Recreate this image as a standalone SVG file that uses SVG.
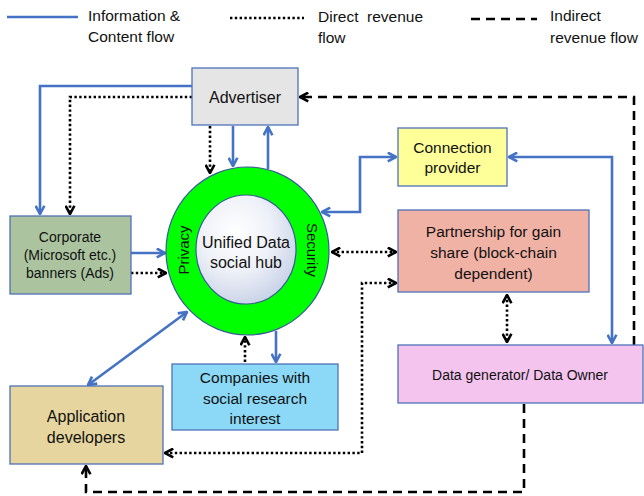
<svg xmlns="http://www.w3.org/2000/svg" width="644" height="496" viewBox="0 0 644 496">
<style>
text{font-family:"Liberation Sans",Arial,sans-serif;fill:#111;text-anchor:middle}
.box{stroke:#4f72b8;stroke-width:1.3}
.info{fill:none;stroke:#4472c4;stroke-width:2.6}
.dir{fill:none;stroke:#000;stroke-width:2.6;stroke-dasharray:2.4 2.4}
.ind{fill:none;stroke:#000;stroke-width:2.6;stroke-dasharray:9 6}
</style>
<defs>
<marker id="ab" viewBox="0 0 10 10" refX="9" refY="5" markerWidth="11" markerHeight="11" markerUnits="userSpaceOnUse" orient="auto-start-reverse">
<path d="M1.5,1 L9,5 L1.5,9" fill="none" stroke="#4472c4" stroke-width="2.4"/>
</marker>
<marker id="ak" viewBox="0 0 10 10" refX="9" refY="5" markerWidth="11" markerHeight="11" markerUnits="userSpaceOnUse" orient="auto-start-reverse">
<path d="M1.5,1 L9,5 L1.5,9" fill="none" stroke="#000" stroke-width="2.4"/>
</marker>
<radialGradient id="hub" cx="0.4" cy="0.35" r="0.7">
<stop offset="0" stop-color="#ffffff"/>
<stop offset="0.5" stop-color="#eef1f8"/>
<stop offset="1" stop-color="#c6d0e6"/>
</radialGradient>
</defs>

<g id="legend">
<line x1="7" y1="17" x2="78" y2="17" class="info"/>
<text x="88" y="21" style="text-anchor:start;font-size:15.5px">Information &amp;</text>
<text x="88" y="42" style="text-anchor:start;font-size:15.5px">Content flow</text>
<line x1="230" y1="18" x2="304" y2="18" class="dir"/>
<text x="318" y="22" style="text-anchor:start;font-size:15.5px;white-space:pre" xml:space="preserve">Direct  revenue</text>
<text x="318" y="43" style="text-anchor:start;font-size:15.5px">flow</text>
<line x1="471" y1="19" x2="537" y2="19" class="ind"/>
<text x="550" y="21" style="text-anchor:start;font-size:15.5px">Indirect</text>
<text x="550" y="43" style="text-anchor:start;font-size:15.5px">revenue flow</text>
</g>

<g id="connectors">
<!-- information flow -->
<path d="M192,86 H40 V214" class="info" marker-end="url(#ab)"/>
<path d="M233,126 V166" class="info" marker-end="url(#ab)"/>
<path d="M268,169 V127" class="info" marker-end="url(#ab)"/>
<path d="M131,253 H165" class="info" marker-end="url(#ab)"/>
<path d="M322,212 H360 V157 H396" class="info" marker-start="url(#ab)" marker-end="url(#ab)"/>
<path d="M509,157 H612 V343" class="info" marker-start="url(#ab)" marker-end="url(#ab)"/>
<path d="M187,312 L88,385" class="info" marker-start="url(#ab)" marker-end="url(#ab)"/>
<path d="M276,331 V362" class="info" marker-end="url(#ab)"/>
<!-- direct revenue -->
<path d="M192,97 H70 V214" class="dir" marker-end="url(#ak)"/>
<path d="M210,126 V173" class="dir" marker-end="url(#ak)"/>
<path d="M131,273 H166" class="dir" marker-end="url(#ak)"/>
<path d="M332,252 H396" class="dir" marker-start="url(#ak)" marker-end="url(#ak)"/>
<path d="M396,283 H362 V453 H165" class="dir" marker-start="url(#ak)" marker-end="url(#ak)"/>
<path d="M507,295 V342" class="dir" marker-start="url(#ak)" marker-end="url(#ak)"/>
<path d="M245,362 V337" class="dir" marker-end="url(#ak)"/>
<!-- indirect revenue -->
<path d="M634,345 V97 H300" class="ind" marker-end="url(#ak)"/>
<path d="M524,404 V492 H86 V466" class="ind" marker-end="url(#ak)"/>
</g>

<g id="advertiser">
<rect x="192" y="68" width="106" height="57" fill="#e5e5e5" class="box"/>
<text x="245" y="103" style="font-size:16px">Advertiser</text>
</g>

<g id="hub-node">
<ellipse cx="247.5" cy="251" rx="81.5" ry="84" fill="#00ff00" stroke="#3a5a9a" stroke-width="1.2"/>
<ellipse cx="246" cy="249.5" rx="50" ry="54.5" fill="url(#hub)" stroke="#3a5a9a" stroke-width="1.2"/>
<text x="246" y="248" style="font-size:16px">Unified Data</text>
<text x="246" y="268" style="font-size:16px">social hub</text>
<text transform="translate(189,250) rotate(-90)" style="font-size:15px">Privacy</text>
<text transform="translate(307,250) rotate(90)" style="font-size:15px">Security</text>
</g>

<g id="corporate">
<rect x="10" y="216" width="121" height="78" fill="#abc49f" class="box"/>
<text x="70" y="242" style="font-size:14px">Corporate</text>
<text x="70" y="260" style="font-size:14px">(Microsoft etc.)</text>
<text x="70" y="278" style="font-size:14px">banners (Ads)</text>
</g>

<g id="connection-provider">
<rect x="398" y="128" width="109" height="58" fill="#ffff99" class="box"/>
<text x="452.5" y="153" style="font-size:15.5px">Connection</text>
<text x="452.5" y="173" style="font-size:15.5px">provider</text>
</g>

<g id="partnership">
<rect x="398" y="210" width="191" height="82" fill="#f1b2a6" class="box"/>
<text x="493.5" y="237" style="font-size:15.5px">Partnership for gain</text>
<text x="493.5" y="258" style="font-size:15.5px">share (block-chain</text>
<text x="493.5" y="279" style="font-size:15.5px">dependent)</text>
</g>

<g id="data-generator">
<rect x="398" y="345" width="245" height="58" fill="#f4c4ee" class="box"/>
<text x="520" y="380" style="font-size:14px">Data generator/ Data Owner</text>
</g>

<g id="companies">
<rect x="172" y="364" width="166" height="66" fill="#8bd9f7" class="box"/>
<text x="255" y="383" style="font-size:15.5px">Companies with</text>
<text x="255" y="404" style="font-size:15.5px">social research</text>
<text x="255" y="424" style="font-size:15.5px">interest</text>
</g>

<g id="app-developers">
<rect x="10" y="386" width="153" height="78" fill="#e6d59e" class="box"/>
<text x="86" y="422" style="font-size:16px">Application</text>
<text x="86" y="443" style="font-size:16px">developers</text>
</g>
</svg>
